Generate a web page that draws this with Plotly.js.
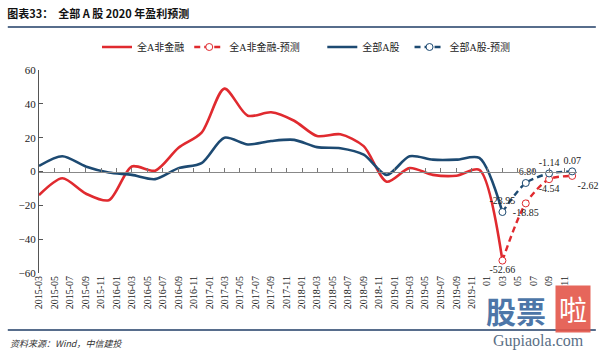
<!DOCTYPE html>
<html><head><meta charset="utf-8">
<script src="https://cdn.plot.ly/plotly-3.0.1.min.js"></script>
<style>html,body{margin:0;padding:0;background:#fff;}#c{width:600px;height:351px;}</style>
</head><body><div id="c"></div>
<script>
// quarterly dates (actual)
const dates = ['2015-03-01','2015-06-01','2015-09-01','2015-12-01','2016-03-01','2016-06-01','2016-09-01','2016-12-01',
  '2017-03-01','2017-06-01','2017-09-01','2017-12-01','2018-03-01','2018-06-01','2018-09-01','2018-12-01',
  '2019-03-01','2019-06-01','2019-09-01','2019-12-01','2020-03-01'];
const nonFin = [-14,-4,-13,-17,3,0.5,14,23,49,33,35,30,21,22,15,-6,2,-2,-2.5,1,-52.66];
const allA   = [3.3,9,3,-0.6,-2,-4.5,2,5,20,16,18,18.7,14.4,13.8,10,-2,9,7,7,8,-23.95];
// forecasts
const fDates = ['2020-03-01','2020-06-01','2020-09-01','2020-12-01'];
const nonFinF = [-52.66,-18.85,-4.54,-2.62];
const allAF   = [-23.95,-6.80,-1.14,0.07];
// series names
const seriesNames = ['全A非金融', '全A非金融-预测', '全部A股', '全部A股-预测'];
// tick labels
const tickDates = [];
const tickText = [];
for (let y = 2015; y <= 2020; y++) {
  for (let m = 1; m <= 11; m += 2) {
    if (y === 2015 && m < 3) continue;
    const mm = String(m).padStart(2,'0');
    tickDates.push(y + '-' + mm + '-01');
    tickText.push(y === 2020 ? mm : y + '-' + mm);
  }
}
const RED = '#e02a2f', BLUE = '#1d4a72';
const serif = 'Liberation Serif, Noto Sans CJK SC, serif';
const pad = n => '\u00A0'.repeat(n);
const traces = [
  {x: dates, y: nonFin, name: seriesNames[0], mode: 'lines', line: {color: RED, width: 2.6, shape: 'spline', smoothing: 0.8}},
  {x: fDates, y: nonFinF, name: seriesNames[1] + pad(7), mode: 'lines+markers+text', cliponaxis: false,
   line: {color: RED, width: 2.4, dash: '6px,4px', shape: 'spline', smoothing: 0.8},
   marker: {symbol: 'circle', size: 7, color: '#fff', line: {color: RED, width: 1}},
   text: nonFinF.map(v => v.toFixed(2)), textposition: ['bottom center','bottom center','bottom center','bottom right'],
   textfont: {family: serif, size: 10, color: '#222'}},
  {x: dates, y: allA, name: seriesNames[2] + pad(2), mode: 'lines', line: {color: BLUE, width: 2.6, shape: 'spline', smoothing: 0.8}},
  {x: fDates, y: allAF, name: seriesNames[3], mode: 'lines+markers+text', cliponaxis: false,
   line: {color: BLUE, width: 2.4, dash: '6px,4px', shape: 'spline', smoothing: 0.8},
   marker: {symbol: 'circle', size: 7, color: '#fff', line: {color: BLUE, width: 1}},
   text: allAF.map(v => v.toFixed(2)), textposition: 'top center',
   textfont: {family: serif, size: 10, color: '#222'}},
  {x: [dates[0]], y: [0], xaxis: 'x2', yaxis: 'y', mode: 'markers', marker: {opacity: 0}, showlegend: false, hoverinfo: 'skip'}
];
const xr = ['2015-03-01','2020-12-20'];
const H = 203, TOP = 70;
function py(pix) { return (TOP + H - pix) / H; }
const layout = {
  width: 600, height: 351,
  margin: {l: 39, r: 23, t: 70, b: 78},
  paper_bgcolor: '#fff', plot_bgcolor: '#fff',
  font: {family: serif, size: 10, color: '#222'},
  title: {text: '<b>图表33：  全部 A 股 2020 年盈利预测</b>', x: 0.012, xanchor: 'left', xref: 'container',
          y: 1 - 14/351, yanchor: 'middle', yref: 'container',
          font: {family: 'Noto Sans CJK SC, Liberation Serif', size: 11, color: '#111'}},
  showlegend: true,
  legend: {orientation: 'h', x: (97-39)/538, xanchor: 'left', y: py(47), yanchor: 'middle',
           font: {family: 'Liberation Serif, Noto Sans CJK SC', size: 10, color: '#222'},
           itemwidth: 30, tracegroupgap: 0, bgcolor: 'rgba(0,0,0,0)'},
  xaxis: {type: 'date', range: xr, tickmode: 'array', tickvals: tickDates, ticktext: tickText,
          tickangle: -90, showgrid: false, zeroline: false, showline: false, ticks: '',
          tickfont: {family: serif, size: 10, color: '#222'}},
  xaxis2: {type: 'date', range: xr, overlaying: 'x', anchor: 'free', position: 0.5, side: 'bottom',
           tickmode: 'array', tickvals: tickDates, showticklabels: false, ticks: 'inside', ticklen: 4,
           tickcolor: '#777', showline: true, linecolor: '#888', linewidth: 1.2, showgrid: false, zeroline: false},
  yaxis: {range: [-60, 60], tickvals: [-60,-40,-20,0,20,40,60], showgrid: false, zeroline: false,
          showline: true, linecolor: '#555', linewidth: 1, ticks: 'inside', ticklen: 4, tickcolor: '#555',
          tickfont: {family: serif, size: 11, color: '#222'}},
  shapes: [
    {type: 'line', xref: 'paper', yref: 'paper', x0: -0.058, x1: 1.035, y0: py(27), y1: py(27),
     line: {color: '#1f3d66', width: 1.5}},
    {type: 'line', xref: 'paper', yref: 'paper', x0: -0.058, x1: 1.035, y0: py(330), y1: py(330),
     line: {color: '#1f3d66', width: 1.5}}
  ],
  annotations: [
    {text: '<i>资料来源：Wind，中信建投</i>', xref: 'paper', yref: 'paper', x: -0.058, xanchor: 'left', y: py(343), yanchor: 'middle',
     showarrow: false, font: {family: 'Noto Sans CJK SC, Liberation Serif', size: 9, color: '#333'}},
    {text: '<b>股票</b>', xref: 'paper', yref: 'paper', x: (516-39)/538, xanchor: 'center', y: py(310), yanchor: 'middle',
     showarrow: false, font: {family: 'Noto Sans CJK SC', size: 30, color: '#2f5f9a'}, opacity: 0.85},
    {text: '啦', xref: 'paper', yref: 'paper', x: (573-39)/538, xanchor: 'center', y: py(309), yanchor: 'middle',
     showarrow: false, font: {family: 'Noto Sans CJK SC', size: 28, color: '#fff'}, bgcolor: '#e4564a', borderpad: 3, opacity: 0.9},
    {text: 'Gupiaola.com', xref: 'paper', yref: 'paper', x: (538-39)/538, xanchor: 'center', y: py(341), yanchor: 'middle',
     showarrow: false, font: {family: 'Liberation Serif', size: 16, color: '#5a6f86'}}
  ]
};
Plotly.newPlot('c', traces, layout, {displayModeBar: false, staticPlot: true});
</script></body></html>
